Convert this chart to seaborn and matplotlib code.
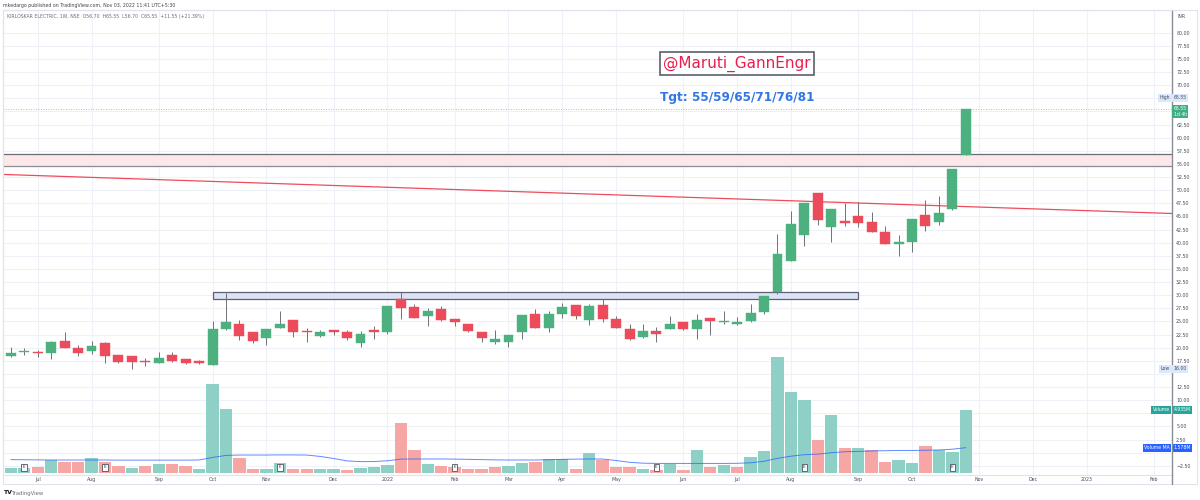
import numpy as np
import pandas as pd
import matplotlib.pyplot as plt
import matplotlib.transforms as mtransforms
from matplotlib.patches import Rectangle
from matplotlib.lines import Line2D
import seaborn as sns

# weekly bars, KIRLOSKAR ELECTRIC (NSE)
weeks = pd.date_range("2021-06-21", periods=72, freq="W-MON")

opens = [18.4, 19.2, 19.2, 18.9, 21.3, 19.9, 19.4, 20.96, 18.7, 18.4, 17.3, 17.0, 18.7, 17.8, 17.4,
         16.7, 23.5, 24.6, 22.9, 21.9, 23.8, 25.3, 23.1, 22.2, 23.4, 22.9, 20.8, 23.3, 23.05, 29.3,
         27.8, 26.0, 27.4, 25.5, 24.6, 23.05, 21.1, 21.0, 22.9, 26.5, 23.8, 26.4, 28.1, 25.3, 28.2,
         25.5, 23.5, 22.1, 23.2, 23.6, 24.96, 23.6, 25.7, 24.8, 24.6, 25.15, 26.8, 30.7, 36.5, 41.5,
         49.4, 43.06, 44.14, 45.1, 43.9, 42.1, 39.8, 40.2, 45.3, 44.0, 46.5, 56.7]
highs = [20.2, 19.9, 19.6, 21.3, 23.0, 20.45, 21.2, 21.0, 18.7, 18.4, 18.1, 19.1, 19.1, 17.8, 17.7,
         25.0, 30.5, 25.3, 22.9, 23.5, 26.9, 25.3, 23.7, 23.4, 23.4, 23.4, 23.2, 24.1, 27.9, 30.7,
         28.4, 27.6, 27.9, 25.5, 24.6, 23.05, 23.4, 22.4, 26.3, 27.4, 26.9, 28.6, 28.1, 28.3, 29.2,
         26.1, 24.6, 24.5, 24.0, 26.0, 24.96, 26.5, 25.7, 26.9, 25.8, 28.3, 29.9, 41.7, 46.0, 47.6,
         49.4, 46.4, 47.6, 47.8, 45.9, 43.25, 41.5, 44.5, 48.1, 48.8, 54.0, 65.55]
lows = [18.2, 18.6, 18.2, 17.9, 19.9, 18.4, 18.8, 17.0, 17.0, 16.0, 16.5, 17.0, 17.3, 16.8, 16.8,
        16.7, 23.4, 21.5, 20.96, 20.5, 23.8, 22.1, 21.0, 22.0, 22.4, 21.5, 20.2, 21.7, 22.6, 25.5,
        25.6, 24.2, 25.0, 24.2, 23.0, 21.0, 20.7, 20.1, 21.7, 23.7, 22.9, 25.6, 25.5, 24.3, 24.96,
        23.8, 21.5, 21.8, 21.1, 23.6, 23.4, 21.6, 22.4, 24.5, 24.3, 24.96, 26.4, 30.2, 36.5, 39.4,
        43.4, 40.07, 43.2, 43.06, 42.0, 39.8, 37.5, 38.3, 42.2, 43.4, 46.2, 56.7]
closes = [19.05, 19.35, 18.9, 21.0, 20.0, 19.05, 20.4, 18.42, 17.2, 17.3, 17.25, 18.0, 17.5, 17.0, 17.05,
          23.5, 24.8, 22.2, 21.3, 23.5, 24.6, 23.05, 22.9, 22.9, 23.0, 21.8, 22.6, 22.9, 27.9, 27.5,
          25.7, 27.05, 25.2, 24.8, 23.2, 21.8, 21.6, 22.4, 26.3, 23.7, 26.4, 27.8, 26.0, 28.0, 25.4,
          23.8, 21.6, 23.2, 22.7, 24.6, 23.6, 25.3, 25.0, 25.1, 24.9, 26.7, 29.9, 37.8, 43.6, 47.6,
          44.3, 46.4, 43.7, 43.8, 42.0, 39.8, 40.2, 44.5, 43.25, 45.6, 54.0, 65.55]
# volume in millions and its moving average
volume = [0.34, 0.34, 0.42, 0.97, 0.84, 0.84, 1.16, 0.84, 0.55, 0.39, 0.53, 0.65, 0.68, 0.55, 0.29,
          6.95, 5.01, 1.13, 0.29, 0.31, 0.79, 0.29, 0.29, 0.29, 0.29, 0.24, 0.37, 0.47, 0.63, 3.88,
          1.81, 0.71, 0.53, 0.47, 0.31, 0.31, 0.47, 0.55, 0.73, 0.87, 1.05, 1.05, 0.31, 1.52, 1.02,
          0.45, 0.45, 0.26, 0.21, 0.71, 0.21, 1.81, 0.47, 0.57, 0.42, 1.26, 1.71, 9.07, 6.35, 5.72,
          2.57, 4.54, 1.91, 1.97, 1.79, 0.81, 1.00, 0.79, 2.10, 1.79, 1.65, 4.935]
vol_ma = [1.03, 1.02, 1.01, 1.0, 1.0, 1.0, 1.0, 1.0, 0.99, 0.99, 0.99, 0.99, 0.99, 0.99, 1.0,
          1.2, 1.36, 1.39, 1.39, 1.39, 1.40, 1.40, 1.39, 1.28, 1.12, 0.93, 0.87, 0.88, 0.94, 1.07,
          1.08, 1.08, 1.08, 1.07, 1.05, 1.03, 1.01, 1.0, 1.0, 1.0, 1.02, 1.05, 1.07, 1.08, 1.08,
          0.96, 0.82, 0.75, 0.73, 0.73, 0.73, 0.73, 0.73, 0.73, 0.74, 0.78, 0.9, 1.13, 1.3, 1.42,
          1.46, 1.57, 1.65, 1.68, 1.71, 1.73, 1.75, 1.75, 1.77, 1.79, 1.85, 1.97]
earnings = ["2021-06-28", "2021-08-09", "2021-11-08", "2022-02-07", "2022-05-23", "2022-08-08", "2022-10-24"]

# drawings on the chart
trend_x = [-0.58, 86.33]
trend_y = [53.0, 45.56]
band = [54.6, 56.8]
box_x = [15.06, 62.97]
box_y = [29.2, 30.55]

sns.set_style("white")
plt.rcParams["font.family"] = ["DejaVu Sans"]

df = pd.DataFrame({"week": weeks, "open": opens, "high": highs, "low": lows,
                   "close": closes, "volume": volume, "vol_ma": vol_ma})
df["i"] = np.arange(len(df))
df["up"] = df["close"] >= df["open"]
df["vol_up"] = df["close"] >= df["close"].shift(1).fillna(df["open"])

# month ticks incl. future weeks
all_weeks = pd.date_range("2021-06-21", "2023-02-28", freq="W-MON")
tick_pos, tick_lab = [], []
for k in range(1, len(all_weeks)):
    if all_weeks[k].month != all_weeks[k - 1].month:
        tick_pos.append(k)
        tick_lab.append(str(all_weeks[k].year) if all_weeks[k].month == 1 else all_weeks[k].strftime("%b"))

fig = plt.figure(figsize=(12, 5), dpi=100)
axv = fig.add_axes([3 / 1200, 25 / 500, 1169 / 1200, 465 / 500])
ax = axv.twinx()
axv.set_xlim(-0.58, 86.33)
axv.set_ylim(-0.18, 36.4)
ax.set_ylim(-4.25, 84.32)

grid_c = "#eef1f7"
price_ticks = np.arange(-2.5, 82.5, 2.5)
hgrid = mtransforms.blended_transform_factory(axv.transAxes, ax.transData)
for p in price_ticks:
    axv.plot([0, 1], [p, p], transform=hgrid, color=grid_c, lw=0.8, zorder=0)
axv.set_xticks(tick_pos)
axv.set_xticklabels(tick_lab)
axv.grid(axis="x", color=grid_c, lw=0.8)
axv.set_axisbelow(True)
axv.set_yticks([])

# volume
vcol = np.where(df["vol_up"], "#8fd0c6", "#f6a7a5")
axv.bar(df["i"], df["volume"], width=0.92, color=vcol, edgecolor="none", zorder=2)
sns.lineplot(x=df["i"], y=df["vol_ma"], ax=axv, color="#2962ff", lw=0.7, alpha=0.75, zorder=3)
axv.set_xlabel("")
axv.set_ylabel("")
ex = weeks.get_indexer(pd.to_datetime(earnings))
for e in ex:
    axv.text(e, 0.42, "E", fontsize=3, ha="center", va="center", color="#333",
             bbox=dict(boxstyle="square,pad=0.35", fc="white", ec="#50535e", lw=0.6), zorder=5)

# drawings
ax.axhspan(band[0], band[1], color="#fde7e9", lw=0, zorder=1)
ax.axhline(band[1], color="#6a6d78", lw=0.9, zorder=1.5)
ax.axhline(band[0], color="#8a8d96", lw=0.9, zorder=1.5)
ax.add_patch(Rectangle((box_x[0], box_y[0]), box_x[1] - box_x[0], box_y[1] - box_y[0],
                       fc="#dde3f7", ec="#5d6170", lw=0.9, zorder=2))
sns.lineplot(x=trend_x, y=trend_y, ax=ax, color="#ef4b5b", lw=0.9, zorder=2)
ax.axhline(closes[-1], color="#26a69a", ls=(0, (1, 2)), lw=0.6, alpha=0.7, zorder=1)

# candles
ccol = np.where(df["up"], "#4cb17f", "#eb4b5a")
ax.vlines(df["i"], df["low"], df["high"], color="#6f7177", lw=0.7, zorder=3)
body = np.maximum((df["close"] - df["open"]).abs(), 0.12)
ax.bar(df["i"], body, bottom=np.minimum(df["open"], df["close"]), width=0.74,
       color=ccol, edgecolor=ccol, lw=0.3, zorder=4)
ax.set_xlabel("")
ax.set_ylabel("")

ax.text(0.628, 0.884, "@Maruti_GannEngr", transform=ax.transAxes, ha="center", va="center",
        fontsize=11, color="#e91e4f",
        bbox=dict(boxstyle="square,pad=0.22", fc="white", ec="#5d606b", lw=1.2), zorder=6)
ax.text(0.628, 0.812, "Tgt: 55/59/65/71/76/81", transform=ax.transAxes, ha="center", va="center",
        fontsize=8.7, weight="bold", color="#3377e6", zorder=6)

# axes styling; labels sitting under the price tags are left out, as on the chart
hidden = {0.0, 7.5, 15.0, 65.0, 67.5}
ax.set_yticks(price_ticks)
ax.set_yticklabels(["" if round(v, 2) in hidden else f"{v:.2f}".replace("-", "\u2212") for v in price_ticks])
ax.tick_params(axis="y", length=0, pad=3, labelsize=3.4, labelcolor="#4a4e59")
axv.tick_params(axis="x", length=0, pad=1.5, labelsize=3.4, labelcolor="#4a4e59")
for s in ["top", "left", "bottom"]:
    axv.spines[s].set_color("#e0e3eb")
    axv.spines[s].set_linewidth(0.8)
    ax.spines[s].set_visible(False)
axv.spines["right"].set_visible(False)
ax.spines["right"].set_color("#8a8d96")
ax.spines["right"].set_linewidth(1.0)


def tag(axis, y, text, fc, tc, left=None):
    axis.annotate(text, xy=(1, y), xycoords=("axes fraction", "data"), xytext=(1.2, 0),
                  textcoords="offset points", ha="left", va="center", fontsize=3.3, color=tc,
                  bbox=dict(boxstyle="square,pad=0.3", fc=fc, ec="none"), annotation_clip=False, zorder=10)
    if left:
        axis.annotate(left, xy=(1, y), xycoords=("axes fraction", "data"), xytext=(-1.5, 0),
                      textcoords="offset points", ha="right", va="center", fontsize=3.3, color=tc,
                      bbox=dict(boxstyle="square,pad=0.3", fc=fc, ec="none"), annotation_clip=False, zorder=10)


tag(ax, 67.6, "65.55", "#dbe8fb", "#4a4e59", "High")
tag(ax, 65.0, "65.55\n1d 4h", "#3fae82", "white")
tag(ax, 16.0, "16.00", "#dbe8fb", "#4a4e59", "Low")
tag(axv, volume[-1], "4.935M", "#26a69a", "white", "Volume")
tag(axv, vol_ma[-1], "1.578M", "#2962ff", "white", "Volume MA")

# frame, header and footer
fig.add_artist(Rectangle((3 / 1200, 1 - 484 / 500), 1194 / 1200, 474 / 500, transform=fig.transFigure,
                         fill=False, ec="#e0e3eb", lw=0.8))
fig.add_artist(Line2D([1172 / 1200] * 2, [1 - 484 / 500, 1 - 475 / 500], transform=fig.transFigure,
                      color="#8a8d96", lw=1.0))
fig.text(1178 / 1200, 1 - 17 / 500, "INR", fontsize=3.3, color="#4a4e59", va="center")
fig.text(3 / 1200, 1 - 5 / 500, "mkedargo published on TradingView.com, Nov 03, 2022 11:41 UTC+5:30",
         fontsize=3.4, color="#444", va="center")
fig.text(7 / 1200, 1 - 16.7 / 500,
         "KIRLOSKAR ELECTRIC, 1W, NSE  O56.70  H65.55  L56.70  C65.55  +11.55 (+21.39%)",
         fontsize=3.3, color="#6a6d78", va="center")
fig.text(3 / 1200, 1 - 493 / 500, "TV", fontsize=4.5, weight="bold", color="#131722", va="center")
fig.text(12 / 1200, 1 - 493 / 500, "TradingView", fontsize=3.8, color="#6a6d78", va="center")

fig.savefig("out.png", dpi=100, facecolor="white")
